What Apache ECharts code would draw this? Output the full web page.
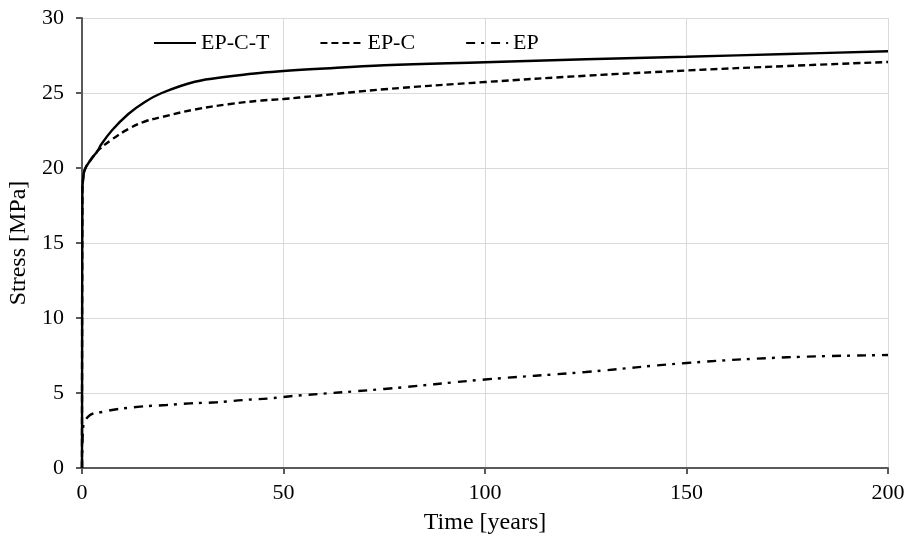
<!DOCTYPE html>
<html>
<head>
<meta charset="utf-8">
<script src="https://cdn.jsdelivr.net/npm/echarts@6/dist/echarts.min.js"></script>
<style>
html, body { margin: 0; padding: 0; background: #fff; }
#chart { width: 904px; height: 543px; }
</style>
</head>
<body>
<div id="chart"></div>
<script>
// time points [years] and stress values [MPa]
var tEPCT = [0, 0.1, 0.25, 0.7, 2.3, 3.5, 4.05, 4.6, 7.4, 11.5, 15.6, 19.8, 28, 36.3, 44.6, 50, 57.8, 75, 100, 125, 150, 175, 200];
var sEPCT = [0, 18.5, 19.2, 19.9, 20.6, 21.0, 21.2, 21.5, 22.5, 23.6, 24.4, 25.0, 25.75, 26.1, 26.35, 26.47, 26.6, 26.85, 27.05, 27.25, 27.42, 27.6, 27.78];

var tEPC = [0, 0.1, 0.25, 0.7, 2.3, 3.5, 4.05, 7.4, 11.5, 15.6, 19.8, 28, 36.3, 44.6, 50, 57.8, 75, 100, 125, 150, 175, 200];
var sEPC = [0, 18.5, 19.2, 19.9, 20.6, 21.0, 21.2, 21.9, 22.6, 23.1, 23.4, 23.9, 24.25, 24.5, 24.6, 24.8, 25.25, 25.73, 26.15, 26.5, 26.8, 27.07];

var tEP = [0, 0.3, 2, 5.3, 8.2, 14.4, 21, 26.8, 33.4, 40, 46.6, 52.4, 75, 100, 125, 150, 175, 200];
var sEP = [0, 2.75, 3.53, 3.75, 3.9, 4.09, 4.2, 4.31, 4.38, 4.53, 4.64, 4.8, 5.27, 5.9, 6.4, 7.0, 7.38, 7.53];

var seriesNames = ['EP-C-T', 'EP-C', 'EP'];

function pairs(xs, ys) {
    var out = [];
    for (var i = 0; i < xs.length; i++) out.push([xs[i], ys[i]]);
    return out;
}

var font = 'Liberation Serif, Times New Roman, serif';

var dom = document.getElementById("chart");
var myChart = echarts.init(dom);
var option = {
    animation: false,
    backgroundColor: '#fff',
    textStyle: { fontFamily: font },
    grid: { left: 82, right: 16, top: 18, bottom: 75, outerBoundsMode: 'none' },
    legend: {
        left: 148, top: 27,
        itemWidth: 42, itemHeight: 14, itemGap: 50,
        itemStyle: { color: 'rgba(0,0,0,0)', borderWidth: 0 },
        textStyle: { fontFamily: font, fontSize: 22, color: '#000' },
        data: seriesNames
    },
    xAxis: {
        type: 'value', min: 0, max: 200, interval: 50,
        name: 'Time [years]', nameLocation: 'middle', nameGap: 43,
        nameTextStyle: { fontFamily: font, fontSize: 24, color: '#000' },
        axisLine: { lineStyle: { color: '#595959', width: 2 } },
        axisTick: { show: true, length: 6, lineStyle: { color: '#595959', width: 2 } },
        axisLabel: { fontFamily: font, fontSize: 22, color: '#000', margin: 14 },
        splitLine: { show: true, lineStyle: { color: '#d9d9d9', width: 1 } }
    },
    yAxis: {
        type: 'value', min: 0, max: 30, interval: 5,
        name: 'Stress [MPa]', nameLocation: 'middle', nameGap: 40,
        nameTextStyle: { fontFamily: font, fontSize: 24, color: '#000' },
        axisLine: { show: true, lineStyle: { color: '#595959', width: 2 } },
        axisTick: { show: true, length: 6, lineStyle: { color: '#595959', width: 2 } },
        axisLabel: { fontFamily: font, fontSize: 22, color: '#000', margin: 18 },
        splitLine: { show: true, lineStyle: { color: '#d9d9d9', width: 1 } }
    },
    series: [
        {
            name: 'EP-C-T', type: 'line', data: pairs(tEPCT, sEPCT),
            smooth: 0.4, symbol: 'none', z: 5,
            lineStyle: { color: '#000', width: 2.4, type: 'solid' },
            itemStyle: { color: '#000' }
        },
        {
            name: 'EP-C', type: 'line', data: pairs(tEPC, sEPC),
            smooth: 0.4, symbol: 'none', z: 4,
            lineStyle: { color: '#000', width: 2.4, type: [7, 4] },
            itemStyle: { color: '#000' }
        },
        {
            name: 'EP', type: 'line', data: pairs(tEP, sEP),
            smooth: 0.4, symbol: 'none', z: 3,
            lineStyle: { color: '#000', width: 2.4, type: [9, 6, 3, 7] },
            itemStyle: { color: '#000' }
        }
    ]
};

if (option && typeof option === "object") {
    myChart.setOption(option, true);
}
</script>
</body>
</html>
